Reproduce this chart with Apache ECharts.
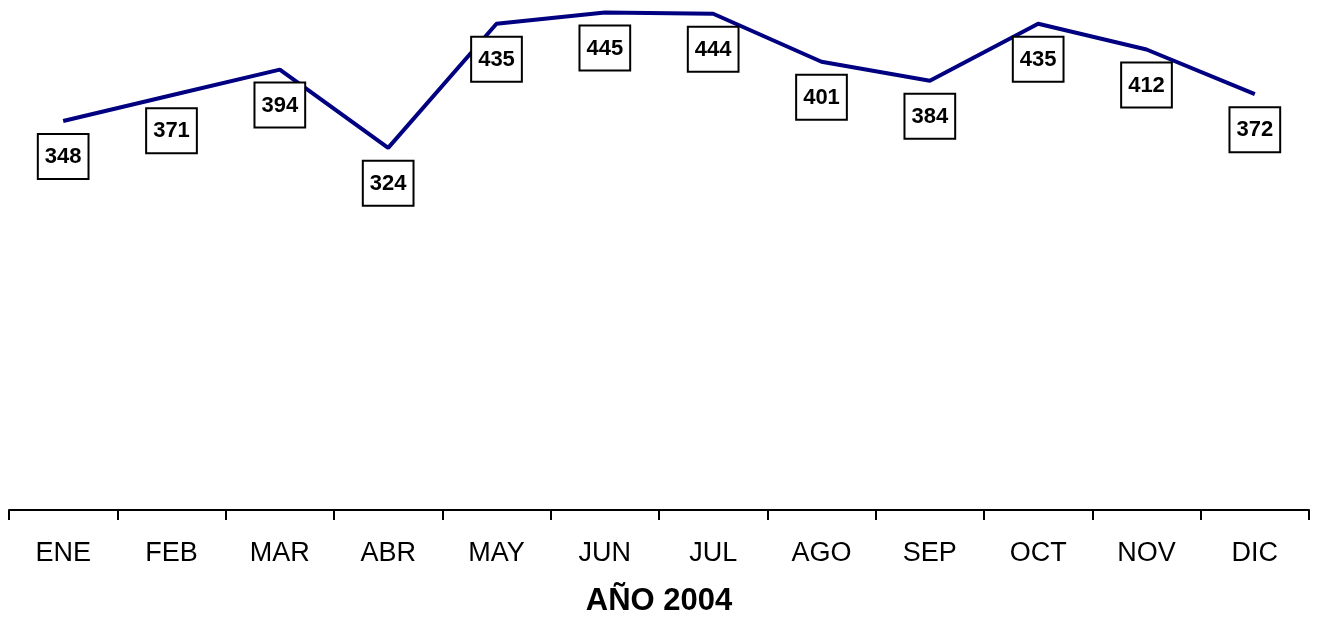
<!DOCTYPE html>
<html>
<head>
<meta charset="utf-8">
<script src="https://cdn.jsdelivr.net/npm/echarts@6/dist/echarts.min.js"></script>
<style>
html,body{margin:0;padding:0;background:#fff;}
#chart{width:1318px;height:622px;}
</style>
</head>
<body>
<div id="chart"></div>
<script>
const categories = ['ENE','FEB','MAR','ABR','MAY','JUN','JUL','AGO','SEP','OCT','NOV','DIC'];
const values = [348, 371, 394, 324, 435, 445, 444, 401, 384, 435, 412, 372];
const axisTitle = 'AÑO 2004';

const chart = echarts.init(document.getElementById('chart'), null, {renderer: 'canvas'});
chart.setOption({
  animation: false,
  backgroundColor: '#ffffff',
  grid: {left: 9, right: 9, top: 7, bottom: 111, containLabel: false},
  xAxis: {
    type: 'category',
    data: categories,
    boundaryGap: true,
    name: axisTitle,
    nameLocation: 'middle',
    nameGap: 76,
    nameTextStyle: {fontFamily: 'Liberation Sans, Arial, sans-serif', fontSize: 31, fontWeight: 'bold', color: '#000'},
    axisLine: {show: true, lineStyle: {color: '#000', width: 2}},
    axisTick: {show: true, alignWithLabel: false, length: 10, inside: false, lineStyle: {color: '#000', width: 2}},
    axisLabel: {fontFamily: 'Liberation Sans, Arial, sans-serif', fontSize: 27, color: '#000', margin: 30, interval: 0},
    splitLine: {show: false}
  },
  yAxis: {
    type: 'value',
    min: 0,
    max: 450,
    show: false,
    splitLine: {show: false}
  },
  series: [{
    type: 'line',
    data: values,
    showSymbol: true,
    showAllSymbol: true,
    symbol: 'circle',
    symbolSize: 2,
    itemStyle: {color: 'rgba(0,0,0,0)', borderColor: 'rgba(0,0,0,0)', borderWidth: 0},
    lineStyle: {color: '#000080', width: 4},
    labelLayout: {hideOverlap: false},
    label: {
      show: true,
      position: 'bottom',
      distance: 13,
      fontFamily: 'Liberation Sans, Arial, sans-serif',
      fontSize: 22,
      fontWeight: 'bold',
      color: '#000',
      lineHeight: 22,
      padding: [11, 6, 10, 6],
      borderColor: '#000',
      borderWidth: 2,
      backgroundColor: '#fff'
    }
  }]
});
</script>
</body>
</html>
